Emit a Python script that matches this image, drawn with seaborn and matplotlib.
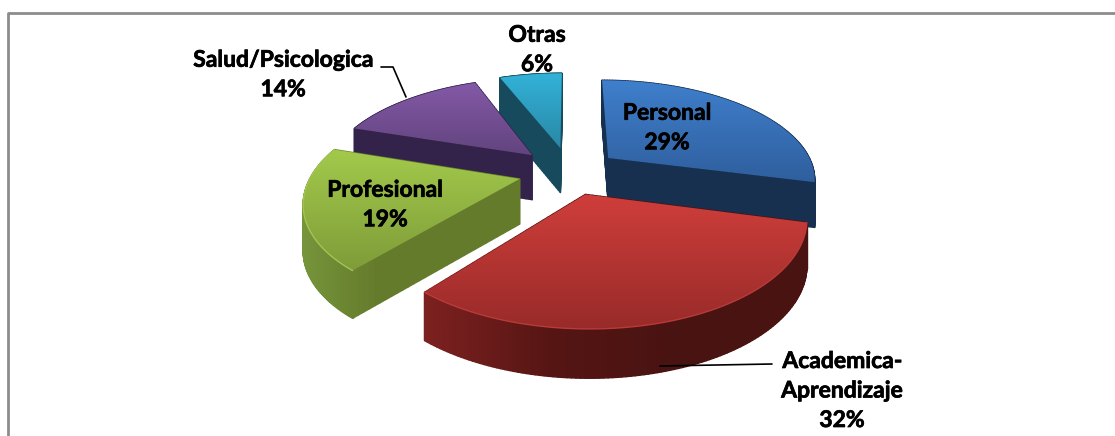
import numpy as np
import seaborn as sns
import matplotlib.pyplot as plt
import matplotlib.patheffects as pe
from matplotlib.collections import PolyCollection
from matplotlib.patches import PathPatch
from matplotlib.path import Path

categories = ['Personal', 'Academica-\nAprendizaje', 'Profesional', 'Salud/Psicologica', 'Otras']
values = [29, 32, 19, 14, 6]

# layout / style, kept apart from the data
explode = [0.24, 0.23, 0.25, 0.26, 0.26]
top_colors = [('#3f7fcc', '#2f5f9e'), ('#cf3e3b', '#982b29'), ('#a2c94b', '#7f9c39'),
              ('#8459a7', '#62447e'), ('#32b2d8', '#2a88a6')]
wall_colors = [('#17304f', '#17304f'), ('#7c2120', '#551513', '#481311', '#481311'),
               ('#76953b', '#647b2b', '#647b2b', '#647b2b'), ('#33234a', '#33234a'), ('#174a5c', '#174a5c')]
rim_colors = [None, '#b93a39', '#a4c451', None, None]
label_xy = [(667, 128), (842, 391), (385, 205), (283, 75), (537, 50)]
draw_order = [4, 3, 2, 0, 1]

CX, CY = 570, 172
A, B, K = 207, 98, 0.196
DEPTH = 45


def project(x, y):
    s = 1 / (1 + K * y)
    return CX + A * x * s, CY - B * y * s, s


sns.set_theme(style='white')
plt.rcParams['font.family'] = ['Lato', 'DejaVu Sans']

fig = plt.figure(figsize=(11.15, 4.36), dpi=100)
ax = fig.add_axes([0, 0, 1, 1])
wedges, _ = ax.pie(values, explode=explode, startangle=90, counterclock=False)

# wedge angles and centres come from the pie, then get tilted into perspective
shapes = []
for w in wedges:
    t = np.radians(np.linspace(w.theta1, w.theta2, 120))
    cx, cy = w.center
    xs = np.r_[cx, cx + w.r * np.cos(t)]
    ys = np.r_[cy, cy + w.r * np.sin(t)]
    shapes.append(project(xs, ys))
    w.remove()

z = 2
for i in draw_order:
    px, py, s = shapes[i]
    # split the straight sides so the wall gradient stays smooth
    frac = np.linspace(0, 1, 30, endpoint=False)
    qx = np.r_[px[0] + (px[1] - px[0]) * frac, px[1:], px[-1] + (px[0] - px[-1]) * frac, px[0]]
    qy = np.r_[py[0] + (py[1] - py[0]) * frac, py[1:], py[-1] + (py[0] - py[-1]) * frac, py[0]]
    depth = DEPTH * ((qy - CY) / 130 * 0.08 + 1)

    cmap = sns.blend_palette(wall_colors[i], 64, as_cmap=True)
    quads = []
    cols = []
    for j in range(len(qx) - 1):
        quads.append([(qx[j], qy[j]), (qx[j + 1], qy[j + 1]),
                      (qx[j + 1], qy[j + 1] + depth[j + 1]), (qx[j], qy[j] + depth[j])])
        cols.append(cmap((qx[j] - px.min()) / (px.max() - px.min())))
    ax.add_collection(PolyCollection(quads, facecolors=cols, edgecolors=cols, linewidths=1, zorder=z))

    # top face: vertical gradient clipped to the wedge
    top_cmap = sns.blend_palette(top_colors[i], 64, as_cmap=True)
    grad = np.linspace(0, 1, 128).reshape(-1, 1)
    img = ax.imshow(grad, cmap=top_cmap, aspect='auto', origin='upper', zorder=z + 1,
                    extent=(px.min(), px.max(), py.max(), py.min()), interpolation='bilinear')
    poly = PathPatch(Path(np.c_[np.r_[px, px[0]], np.r_[py, py[0]]], closed=True),
                     transform=ax.transData, facecolor='none', edgecolor='none')
    ax.add_patch(poly)
    img.set_clip_path(poly)
    if rim_colors[i]:
        ax.plot(px[1:], py[1:], color=rim_colors[i], lw=1, zorder=z + 1)
    z += 2

# leader lines
ax.plot([381, 393, 406], [67, 67, 97], color='black', lw=1.2, zorder=z)
ax.plot([772, 660], [364, 366], color='black', lw=1.2, zorder=z)

for name, val, (lx, ly) in zip(categories, values, label_xy):
    ax.text(lx, ly, f'{name}\n{val}%', ha='center', va='center', fontsize=16.5,
            fontweight='bold', color='black', linespacing=1.5, zorder=z + 1,
            path_effects=[pe.withStroke(linewidth=0.5, foreground='black')])

# chart frame, only top and left show, the rest runs off the image
ax.plot([7.5, 7.5, 1115], [436, 13, 13], color='#8c8c8c', lw=2, zorder=1)

ax.set_aspect('auto')
ax.set_xlim(0, 1115)
ax.set_ylim(436, 0)
ax.axis('off')

plt.savefig('out.png', dpi=100)
plt.close()
